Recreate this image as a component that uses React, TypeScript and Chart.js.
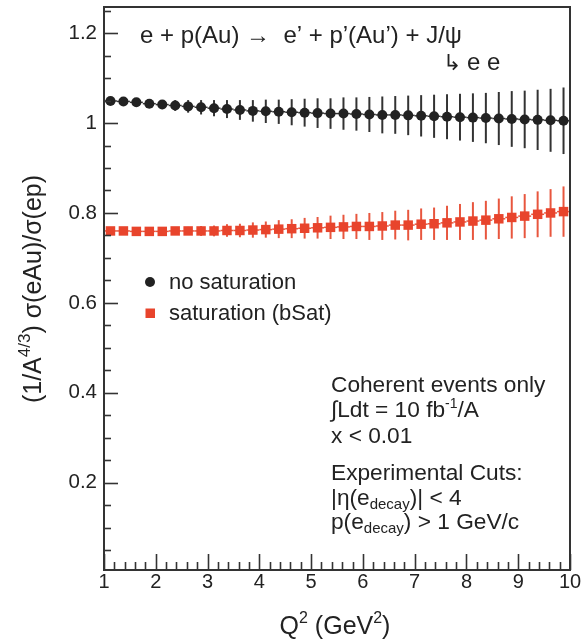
import React, { useEffect, useRef } from "react";
import { Chart, registerables } from "chart.js";

Chart.register(...registerables);

const Q2 = [
  1.125, 1.375, 1.625, 1.875, 2.125, 2.375, 2.625, 2.875, 3.125, 3.375, 3.625, 3.875,
  4.125, 4.375, 4.625, 4.875, 5.125, 5.375, 5.625, 5.875, 6.125, 6.375, 6.625, 6.875,
  7.125, 7.375, 7.625, 7.875, 8.125, 8.375, 8.625, 8.875, 9.125, 9.375, 9.625, 9.875,
];

const noSaturation = [
  1.049, 1.048, 1.046, 1.043, 1.041, 1.039, 1.037, 1.035, 1.033, 1.031, 1.029, 1.027,
  1.026, 1.025, 1.024, 1.023, 1.022, 1.021, 1.021, 1.020, 1.019, 1.018, 1.018, 1.017,
  1.016, 1.015, 1.014, 1.013, 1.012, 1.011, 1.010, 1.009, 1.008, 1.007, 1.006, 1.005,
];
const noSaturationErr = [
  0.003, 0.004, 0.006, 0.008, 0.010, 0.012, 0.014, 0.016, 0.018, 0.020, 0.022, 0.024,
  0.026, 0.027, 0.029, 0.031, 0.033, 0.034, 0.036, 0.037, 0.039, 0.041, 0.042, 0.044,
  0.046, 0.048, 0.050, 0.052, 0.054, 0.056, 0.059, 0.062, 0.064, 0.067, 0.070, 0.074,
];

const saturationBSat = [
  0.760, 0.760, 0.759, 0.759, 0.759, 0.760, 0.760, 0.760, 0.760, 0.761, 0.761, 0.762,
  0.763, 0.764, 0.765, 0.766, 0.767, 0.768, 0.769, 0.770, 0.770, 0.771, 0.773, 0.773,
  0.775, 0.776, 0.778, 0.780, 0.782, 0.784, 0.787, 0.790, 0.793, 0.797, 0.800, 0.803,
];
const saturationBSatErr = [
  0.002, 0.003, 0.004, 0.005, 0.006, 0.008, 0.009, 0.011, 0.012, 0.014, 0.015, 0.017,
  0.018, 0.020, 0.021, 0.023, 0.024, 0.026, 0.027, 0.028, 0.030, 0.031, 0.032, 0.034,
  0.035, 0.036, 0.038, 0.040, 0.042, 0.043, 0.045, 0.047, 0.049, 0.051, 0.053, 0.056,
];

const binHalfWidth = 0.125;
const xTickValues = [1, 2, 3, 4, 5, 6, 7, 8, 9, 10];
const xTickLabels = ["1", "2", "3", "4", "5", "6", "7", "8", "9", "10"];
const yTickValues = [0.2, 0.4, 0.6, 0.8, 1.0, 1.2];
const yTickLabels = ["0.2", "0.4", "0.6", "0.8", "1", "1.2"];

const FONT = "'Liberation Sans', Arial, Helvetica, sans-serif";
const BLACK = "#222222";
const RED = "#e8442c";
const RED_ERR = "#e8563e";

type Part = { t: string; size: number; dy?: number };

function richWidth(ctx: CanvasRenderingContext2D, parts: Part[]) {
  let w = 0;
  for (const p of parts) {
    ctx.font = `${p.size}px ${FONT}`;
    w += ctx.measureText(p.t).width;
  }
  return w;
}

function drawRich(
  ctx: CanvasRenderingContext2D,
  parts: Part[],
  x: number,
  y: number,
  align: "left" | "center" = "left"
) {
  let cx = align === "center" ? x - richWidth(ctx, parts) / 2 : x;
  ctx.textAlign = "left";
  ctx.textBaseline = "alphabetic";
  for (const p of parts) {
    ctx.font = `${p.size}px ${FONT}`;
    ctx.fillText(p.t, cx, y + (p.dy || 0));
    cx += ctx.measureText(p.t).width;
  }
}

const overlayPlugin = {
  id: "overlay",
  beforeDatasetsDraw(chart: any) {
    const ctx: CanvasRenderingContext2D = chart.ctx;
    const xs = chart.scales.x;
    const ys = chart.scales.y;
    const series = [
      { v: noSaturation, e: noSaturationErr, c: "#333333" },
      { v: saturationBSat, e: saturationBSatErr, c: RED_ERR },
    ];
    ctx.save();
    for (const s of series) {
      ctx.strokeStyle = s.c;
      Q2.forEach((q, i) => {
        const px = xs.getPixelForValue(q);
        const py = ys.getPixelForValue(s.v[i]);
        ctx.lineWidth = 1.5;
        ctx.beginPath();
        ctx.moveTo(xs.getPixelForValue(q - binHalfWidth), py);
        ctx.lineTo(xs.getPixelForValue(q + binHalfWidth), py);
        ctx.stroke();
        ctx.lineWidth = 2;
        ctx.beginPath();
        ctx.moveTo(px, ys.getPixelForValue(s.v[i] + s.e[i]));
        ctx.lineTo(px, ys.getPixelForValue(s.v[i] - s.e[i]));
        ctx.stroke();
      });
    }
    ctx.restore();
  },
  afterDraw(chart: any) {
    const ctx: CanvasRenderingContext2D = chart.ctx;
    const a = chart.chartArea;
    const xs = chart.scales.x;
    const ys = chart.scales.y;
    ctx.save();
    // frame
    ctx.strokeStyle = "#333333";
    ctx.lineWidth = 2;
    ctx.strokeRect(a.left, a.top, a.right - a.left, a.bottom - a.top);
    // y ticks (inward, left side)
    ctx.lineWidth = 1.6;
    for (let k = 1; k <= 25; k++) {
      const v = k * 0.05;
      const major = k % 4 === 0;
      const py = Math.round(ys.getPixelForValue(v)) + 0.5;
      if (py < a.top + 1) continue;
      ctx.beginPath();
      ctx.moveTo(a.left, py);
      ctx.lineTo(a.left + (major ? 14 : 7), py);
      ctx.stroke();
    }
    // x ticks (inward, bottom)
    for (let k = 0; k <= 45; k++) {
      const v = 1 + k * 0.2;
      const major = k % 5 === 0;
      const px = Math.round(xs.getPixelForValue(v)) + 0.5;
      ctx.beginPath();
      ctx.moveTo(px, a.bottom);
      ctx.lineTo(px, a.bottom - (major ? 16 : 8));
      ctx.stroke();
    }

    ctx.fillStyle = BLACK;
    // process title
    drawRich(ctx, [{ t: "e + p(Au) \u2192  e\u2019 + p\u2019(Au\u2019) + J/\u03c8", size: 24 }], 140, 43);
    drawRich(ctx, [{ t: "\u21b3", size: 22 }], 443, 70);
    drawRich(ctx, [{ t: "e e", size: 24 }], 467, 70);

    // legend
    ctx.fillStyle = BLACK;
    ctx.beginPath();
    ctx.arc(150, 282, 5, 0, Math.PI * 2);
    ctx.fill();
    drawRich(ctx, [{ t: "no saturation", size: 22 }], 169, 289);
    ctx.fillStyle = RED;
    ctx.fillRect(145.5, 308.5, 9.5, 9.5);
    ctx.fillStyle = BLACK;
    drawRich(ctx, [{ t: "saturation (bSat)", size: 22 }], 169, 320);

    // annotations
    const ax = 331;
    const fs = 22.7;
    drawRich(ctx, [{ t: "Coherent events only", size: fs }], ax, 392);
    drawRich(
      ctx,
      [
        { t: "\u222bLdt = 10 fb", size: fs },
        { t: "-1", size: 14, dy: -9 },
        { t: "/A", size: fs },
      ],
      ax,
      417
    );
    drawRich(ctx, [{ t: "x < 0.01", size: fs }], ax, 443);
    drawRich(ctx, [{ t: "Experimental Cuts:", size: fs }], ax, 480);
    drawRich(
      ctx,
      [
        { t: "|\u03b7(e", size: fs },
        { t: "decay", size: 15, dy: 4 },
        { t: ")| < 4", size: fs },
      ],
      ax,
      505
    );
    drawRich(
      ctx,
      [
        { t: "p(e", size: fs },
        { t: "decay", size: 15, dy: 4 },
        { t: ") > 1 GeV/c", size: fs },
      ],
      ax,
      529
    );

    // x axis title
    drawRich(
      ctx,
      [
        { t: "Q", size: 25 },
        { t: "2", size: 16, dy: -11 },
        { t: " (GeV", size: 25 },
        { t: "2", size: 16, dy: -11 },
        { t: ")", size: 25 },
      ],
      335,
      634,
      "center"
    );

    // y axis title (rotated)
    ctx.save();
    ctx.translate(41, 289);
    ctx.rotate(-Math.PI / 2);
    drawRich(
      ctx,
      [
        { t: "(1/A", size: 25 },
        { t: "4/3", size: 17, dy: -11 },
        { t: ") \u03c3(eAu)/\u03c3(ep)", size: 25 },
      ],
      0,
      0,
      "center"
    );
    ctx.restore();

    ctx.restore();
  },
};

export default function App() {
  const ref = useRef<HTMLCanvasElement | null>(null);

  useEffect(() => {
    if (!ref.current) return;
    const chart = new Chart(ref.current, {
      type: "scatter",
      data: {
        datasets: [
          {
            label: "no saturation",
            data: Q2.map((q, i) => ({ x: q, y: noSaturation[i] })),
            pointStyle: "circle",
            pointRadius: 5,
            pointHoverRadius: 5,
            backgroundColor: BLACK,
            borderWidth: 0,
            showLine: false,
          },
          {
            label: "saturation (bSat)",
            data: Q2.map((q, i) => ({ x: q, y: saturationBSat[i] })),
            pointStyle: "rect",
            pointRadius: 6.7,
            pointHoverRadius: 6.7,
            backgroundColor: RED,
            borderWidth: 0,
            showLine: false,
          },
        ],
      },
      options: {
        animation: false,
        responsive: false,
        devicePixelRatio: 1,
        layout: { padding: { left: 0, top: 7, right: 15, bottom: 0 } },
        plugins: { legend: { display: false }, tooltip: { enabled: false } },
        events: [],
        scales: {
          x: {
            type: "linear",
            min: 1,
            max: 10,
            afterBuildTicks: (s: any) => {
              s.ticks = xTickValues.map((v) => ({ value: v }));
            },
            afterFit: (s: any) => {
              s.height = 71;
              s.paddingLeft = 0;
              s.paddingRight = 0;
              s.paddingTop = 0;
              s.paddingBottom = 0;
            },
            ticks: {
              autoSkip: false,
              maxRotation: 0,
              padding: 0,
              color: BLACK,
              font: { family: FONT, size: 20 },
              callback: (v: any) => {
                const i = xTickValues.indexOf(Number(v));
                return i >= 0 ? xTickLabels[i] : "";
              },
            },
            grid: { display: false, drawTicks: false, tickLength: 0 },
            border: { display: false },
          },
          y: {
            type: "linear",
            min: 0.006,
            max: 1.258,
            afterBuildTicks: (s: any) => {
              s.ticks = yTickValues.map((v) => ({ value: v }));
            },
            afterFit: (s: any) => {
              s.width = 104;
              s.paddingLeft = 0;
              s.paddingRight = 0;
              s.paddingTop = 0;
              s.paddingBottom = 0;
            },
            ticks: {
              autoSkip: false,
              padding: 7,
              color: BLACK,
              font: { family: FONT, size: 20.5 },
              callback: (v: any) => {
                const i = yTickValues.findIndex((t) => Math.abs(t - Number(v)) < 1e-6);
                return i >= 0 ? yTickLabels[i] : "";
              },
            },
            grid: { display: false, drawTicks: false, tickLength: 0 },
            border: { display: false },
          },
        },
      },
      plugins: [overlayPlugin],
    });
    return () => chart.destroy();
  }, []);

  return (
    <div style={{ position: "fixed", left: 0, top: 0, width: 585, height: 641, background: "#fff" }}>
      <canvas ref={ref} width={585} height={641} style={{ width: 585, height: 641, display: "block" }} />
    </div>
  );
}
